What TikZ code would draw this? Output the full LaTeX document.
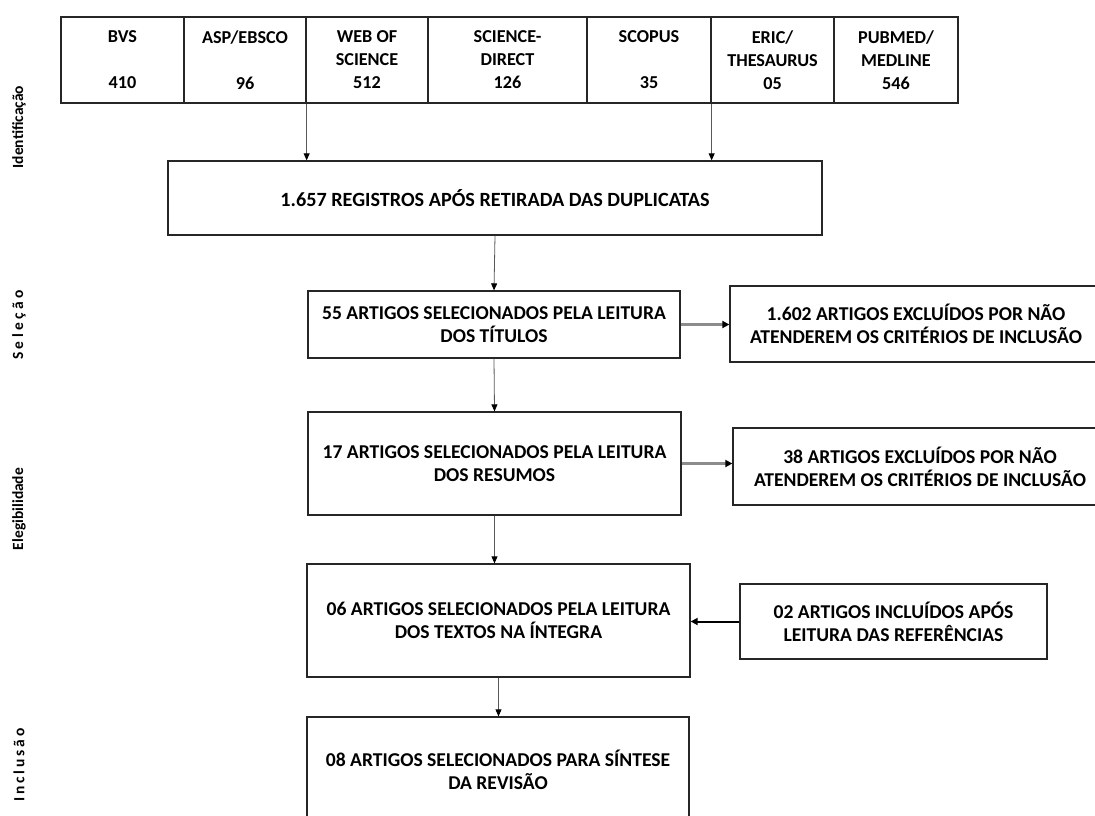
\documentclass[tikz,border=0pt]{standalone}
\usepackage{fontspec}
\setmainfont{Carlito}
\usetikzlibrary{arrows.meta}
\begin{document}
\begin{tikzpicture}[x=1pt,y=-1pt,
  box/.style={draw=black!85, line width=1.3pt, inner sep=0pt, align=center,
    font=\fontsize{19.6}{23}\selectfont\bfseries},
  cell/.style={draw=black!85, line width=1.3pt, inner sep=0pt, align=center,
    font=\fontsize{18.2}{23}\selectfont\bfseries, minimum height=86pt},
  arr/.style={-{Triangle[length=7pt,width=6pt,color=black]}, draw=black!65, line width=0.8pt},
  harr/.style={-{Triangle[length=7pt,width=7pt,color=black]}, draw=black!45, line width=2.2pt},
  karr/.style={-{Triangle[length=7pt,width=7pt]}, draw=black, line width=2pt},
  side/.style={rotate=90, inner sep=0pt, font=\fontsize{15.5}{17}\selectfont\bfseries}]
\useasboundingbox (0,0) rectangle (1095,815);
\clip (0,0) rectangle (1095,815);

% database table
\node[cell, minimum width=123pt] (bvs)    at (122.5,60) {BVS\\\mbox{}\\410};
\node[cell, minimum width=122pt] (asp)    at (245,60)   {ASP/EBSCO\\\mbox{}\\96};
\node[cell, minimum width=122pt] (web)    at (367,60)   {WEB OF\\SCIENCE\\512};
\node[cell, minimum width=159pt] (sd)     at (507.5,60) {SCIENCE-\\DIRECT\\126};
\node[cell, minimum width=124pt] (scopus) at (649,60)   {SCOPUS\\\mbox{}\\35};
\node[cell, minimum width=123pt] (eric)   at (772.5,60) {ERIC/\\THESAURUS\\05};
\node[cell, minimum width=124pt] (pub)    at (896,60)   {PUBMED/\\MEDLINE\\546};

% flow boxes
\node[box, minimum width=654pt, minimum height=74pt, font=\fontsize{20.2}{23}\selectfont\bfseries] (reg) at (495,198)
  {1.657 REGISTROS APÓS RETIRADA DAS DUPLICATAS};
\node[box, minimum width=372pt, minimum height=67pt] (sel) at (494,324.5)
  {55 ARTIGOS SELECIONADOS PELA LEITURA\\DOS TÍTULOS};
\node[box, minimum width=372pt, minimum height=76pt] (exc1) at (916,324)
  {1.602 ARTIGOS EXCLUÍDOS POR NÃO\\ATENDEREM OS CRITÉRIOS DE INCLUSÃO};
\node[box, minimum width=373pt, minimum height=103pt] (res) at (494.5,463.5)
  {17 ARTIGOS SELECIONADOS PELA LEITURA\\DOS RESUMOS};
\node[box, minimum width=374pt, minimum height=77pt] (exc2) at (920,466.5)
  {38 ARTIGOS EXCLUÍDOS POR NÃO\\ATENDEREM OS CRITÉRIOS DE INCLUSÃO};
\node[box, minimum width=383pt, minimum height=113pt] (int) at (498.5,620.5)
  {06 ARTIGOS SELECIONADOS PELA LEITURA\\DOS TEXTOS NA ÍNTEGRA};
\node[box, minimum width=307pt, minimum height=75pt] (inc) at (893.5,621.5)
  {02 ARTIGOS INCLUÍDOS APÓS\\LEITURA DAS REFERÊNCIAS};
\node[box, minimum width=382pt, minimum height=113pt] (fin) at (498,773.5) {};
\node[box, draw=none] (fintxt) at (498,770)
  {08 ARTIGOS SELECIONADOS PARA SÍNTESE\\DA REVISÃO};

% side labels
\node[side] (l1) at (19,127) {Identificação};
\node[side] (l2) at (19,325) {S\kern3.4pt e\kern3.4pt l\kern3.4pt e\kern3.4pt ç\kern3.4pt ã\kern3.4pt o};
\node[side] (l3) at (19,509) {Elegibilidade};
\node[side] (l4) at (19,765) {I\kern2.9pt n\kern2.9pt c\kern2.9pt l\kern2.9pt u\kern2.9pt s\kern2.9pt ã\kern2.9pt o};

% connectors
\draw[arr] (asp.south east) -- (asp.south east |- reg.north);
\draw[arr] (scopus.south east) -- (scopus.south east |- reg.north);
\draw[arr] (reg.south) -- (sel.north);
\draw[arr] (sel.south) -- (res.north);
\draw[arr] (res.south) -- (res.south |- int.north);
\draw[arr] (int.south) -- (int.south |- fin.north);
\draw[harr] (sel.east) -- (sel.east -| exc1.west);
\draw[harr] (res.east) -- (res.east -| exc2.west);
\draw[karr] (inc.west) -- (inc.west -| int.east);
\end{tikzpicture}
\end{document}
